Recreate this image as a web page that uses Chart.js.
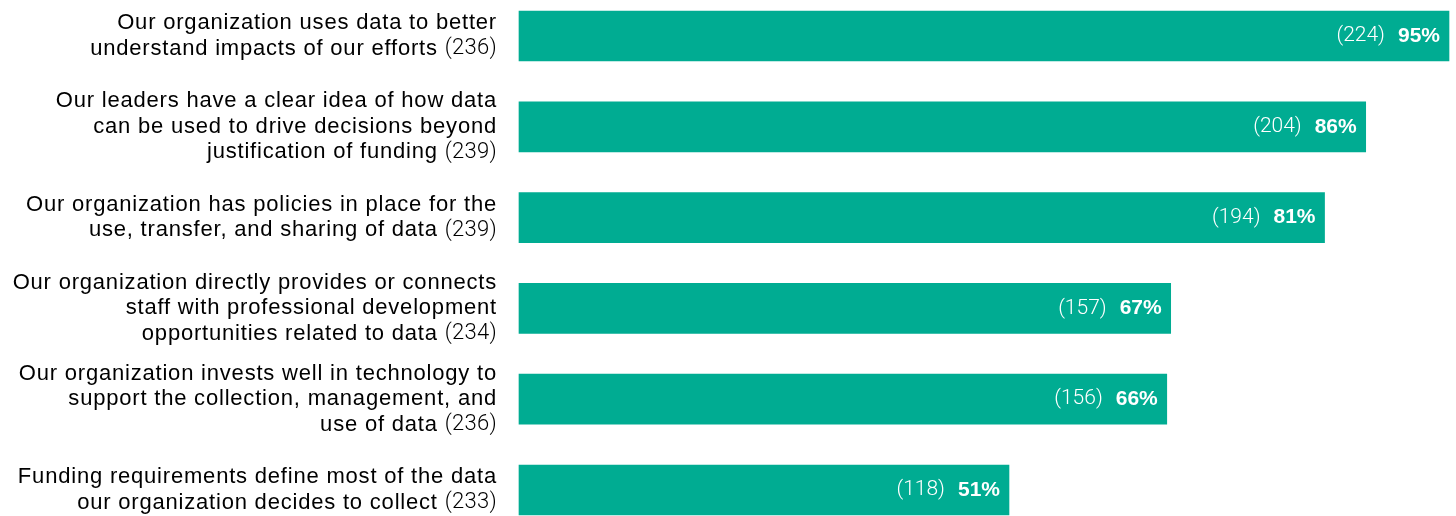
<!DOCTYPE html>
<html>
<head>
<meta charset="utf-8">
<script src="https://cdn.jsdelivr.net/npm/chart.js@4.4.1/dist/chart.umd.min.js"></script>
<style>
  html, body { margin: 0; padding: 0; background: #fff; overflow: hidden; }
  .wrap { width: 1456px; height: 516px; position: relative; }
</style>
</head>
<body>
<div class="wrap"><canvas id="myChart"></canvas></div>
<script>
const questions = [
  ["Our organization uses data to better", "understand impacts of our efforts"],
  ["Our leaders have a clear idea of how data", "can be used to drive decisions beyond", "justification of funding"],
  ["Our organization has policies in place for the", "use, transfer, and sharing of data"],
  ["Our organization directly provides or connects", "staff with professional development", "opportunities related to data"],
  ["Our organization invests well in technology to", "support the collection, management, and", "use of data"],
  ["Funding requirements define most of the data", "our organization decides to collect"]
];
const respondents = [236, 239, 239, 234, 236, 233];
const agreeCounts = [224, 204, 194, 157, 156, 118];
const pctLabels = [95, 86, 81, 67, 66, 51];
// bar lengths
const barValues = [94.9, 86.4, 82.2, 66.5, 66.1, 50.0];

const teal = '#00ac92';
const labelFont = '"Liberation Sans", Arial, sans-serif';
const lightFont = 'Roboto, "Liberation Sans", sans-serif';

const labelsPlugin = {
  id: 'labelsPlugin',
  afterDraw(chart) {
    const c = chart.ctx;
    const yScale = chart.scales.y;
    const meta = chart.getDatasetMeta(0);
    c.save();
    c.textBaseline = 'middle';
    const lh = 25.5;
    questions.forEach((lines, i) => {
      const cy = yScale.getPixelForValue(i);
      const right = 497;
      lines.forEach((line, j) => {
        const y = cy + (j - (lines.length - 1) / 2) * lh;
        c.fillStyle = '#000';
        c.textAlign = 'right';
        if (j === lines.length - 1) {
          c.font = '300 22px ' + lightFont;
          c.letterSpacing = '0.3px';
          const num = '(' + respondents[i] + ')';
          const nw = c.measureText(num).width;
          c.fillText(num, right, y);
          c.font = '22px ' + labelFont;
          c.letterSpacing = '0.8px';
          c.fillText(line + ' ', right - nw, y);
        } else {
          c.font = '22px ' + labelFont;
          c.letterSpacing = '0.8px';
          c.fillText(line, right, y);
        }
      });
      // value labels inside bars
      const bar = meta.data[i];
      c.letterSpacing = '0px';
      c.fillStyle = '#fff';
      c.textAlign = 'right';
      c.font = 'bold 21px ' + labelFont;
      const pct = pctLabels[i] + '%';
      const end = bar.x - 9;
      c.fillText(pct, end, cy);
      const pw = c.measureText(pct).width;
      c.font = '300 21px ' + lightFont;
      c.fillText('(' + agreeCounts[i] + ')', end - pw - 13, cy);
    });
    c.restore();
  }
};

const ctx = document.getElementById('myChart');

new Chart(ctx, {
  type: 'bar',
  data: {
    labels: questions.map(q => q.join(' ')),
    datasets: [{
      data: barValues,
      backgroundColor: teal,
      barThickness: 50,
      borderWidth: 0,
      clip: false
    }]
  },
  options: {
    indexAxis: 'y',
    responsive: true,
    maintainAspectRatio: false,
    animation: false,
    layout: { padding: { top: 36, bottom: 26, right: 7, left: 0 } },
    plugins: {
      legend: { display: false },
      tooltip: { enabled: false }
    },
    scales: {
      x: {
        display: false,
        min: 0,
        max: 94.9
      },
      y: {
        offset: false,
        grid: { display: false },
        border: { display: false },
        ticks: { display: false },
        afterFit: (scale) => { scale.width = 519; }
      }
    }
  },
  plugins: [labelsPlugin]
});
</script>
</body>
</html>
